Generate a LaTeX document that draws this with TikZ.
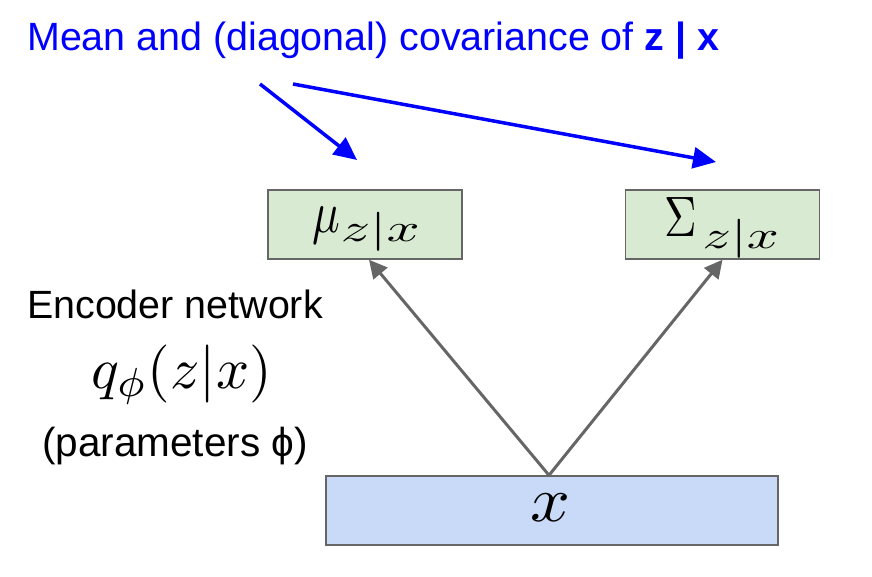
\documentclass[tikz,border=0pt]{standalone}
\usepackage{graphicx}
\usepackage{fontspec}
\setmainfont{Liberation Sans}
\usetikzlibrary{arrows.meta}
\definecolor{titleblue}{RGB}{0,0,255}
\definecolor{boxgreen}{HTML}{D9EAD3}
\definecolor{boxblue}{HTML}{C9DAF8}
\definecolor{edgegray}{HTML}{666666}
\tikzset{
  latentbox/.style={draw=edgegray, line width=1.5pt, fill=boxgreen, minimum width=194pt, minimum height=69pt, inner sep=0pt},
  inputbox/.style={draw=edgegray, line width=1.5pt, fill=boxblue, minimum width=452pt, minimum height=69pt, inner sep=0pt},
  netarrow/.style={draw=edgegray, line width=3pt, -{Triangle[length=18pt,width=18pt]}},
  notearrow/.style={draw=titleblue, line width=3.5pt, -{Triangle[length=23pt,width=21pt]}},
  plaintext/.style={inner sep=0pt, anchor=base west, font=\fontsize{39.4}{46}\selectfont},
  mathtext/.style={inner sep=0pt, anchor=base west}
}
\begin{document}
\begin{tikzpicture}[x=1pt,y=-1pt]
\useasboundingbox (0,0) rectangle (872,576);
\node[plaintext, text=titleblue] (title) at (27,50) {Mean and (diagonal) covariance of \textbf{z | x}};
\node[latentbox] (mu) at (365,224.5) {};
\node[latentbox] (sigma) at (722.5,224.5) {};
\node[inputbox] (x) at (552,510.5) {};
\node[mathtext] (mutext) at (312,232) {\scalebox{4.6}[5.9]{$\mu$}\kern1pt\raisebox{-9pt}{\scalebox{5.8}[3.9]{$z|x$}}};
\node[mathtext] (sigmatext) at (664,236) {\scalebox{4.5}[5.7]{$\Sigma$}\kern6pt\raisebox{-12pt}{\scalebox{5.6}[3.9]{$z|x$}}};
\node[mathtext] (xtext) at (530,521) {\scalebox{7.0}[6.4]{$x$}};
\draw[netarrow] ([xshift=-3pt]x.north) -- ([xshift=4pt]mu.south);
\draw[netarrow] ([xshift=-3pt]x.north) -- (sigma.south);
\coordinate (n1s) at (260,84);
\coordinate (n1e) at (357,160);
\coordinate (n2s) at (293,84);
\coordinate (n2e) at (716,162);
\draw[notearrow] (n1s) -- (n1e);
\draw[notearrow] (n2s) -- (n2e);
\node[plaintext] (enc) at (27,318) {Encoder network};
\node[mathtext] (q) at (91,388) {\scalebox{5.8}[5.8]{$q_\phi(z|x)$}};
\node[plaintext, font=\fontsize{40.5}{46}\selectfont] (par) at (42,456) {(parameters ϕ)};
\end{tikzpicture}
\end{document}
